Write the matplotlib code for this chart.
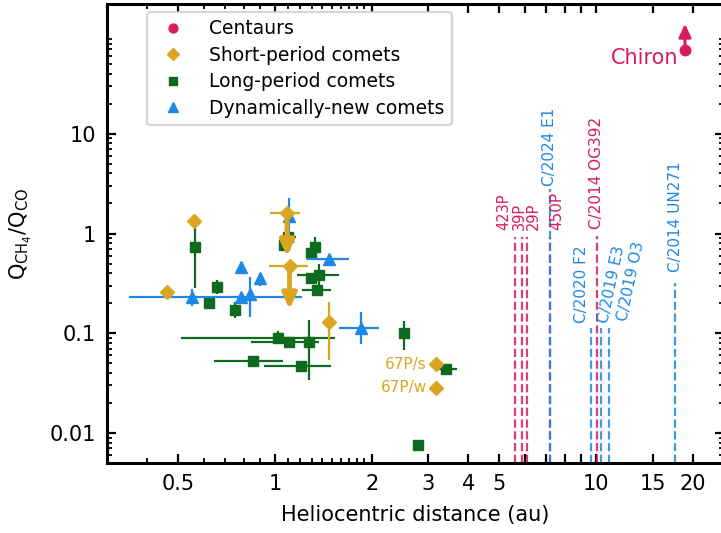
import numpy as np
import matplotlib
matplotlib.use("Agg")
import matplotlib.pyplot as plt
from matplotlib.ticker import FixedLocator, FixedFormatter, LogLocator, NullFormatter

nan = np.nan

# colours per population
C_CEN = "#D81B60"
C_SP  = "#DAA520"
C_LP  = "#0E6A1E"
C_DN  = "#1E88E5"

# ── data: heliocentric distance (au) and Q(CH4)/Q(CO) ─────────────
# centaurs (Chiron, lower limit)
cen_r = [18.9]
cen_q = [69.0]

# short-period comets
sp_r   = [0.46, 0.56, 1.09, 1.11, 1.47, 3.17, 3.17]
sp_q   = [0.26, 1.34, 1.60, 0.47, 0.131, 0.049, 0.0285]
sp_rlo = [nan, nan, 0.966, 0.957, nan, nan, nan]
sp_rhi = [nan, nan, 1.20, 1.27, nan, nan, nan]
sp_qlo = [nan, nan, nan, nan, 0.054, nan, nan]
sp_qhi = [nan, nan, nan, nan, 0.207, nan, nan]
sp_uplim = [False, False, True, True, False, False, False]
sp_names = ["", "", "", "", "", "67P/s", "67P/w"]

# long-period comets
lp_r   = [0.563, 0.622, 0.659, 0.75, 1.096, 1.065, 1.336, 1.296, 1.374, 1.296,
          1.355, 1.025, 1.109, 1.28, 0.853, 1.209, 2.52, 3.42, 2.78]
lp_q   = [0.74, 0.203, 0.293, 0.171, 0.93, 0.77, 0.74, 0.634, 0.385, 0.357,
          0.272, 0.089, 0.081, 0.082, 0.0527, 0.0473, 0.100, 0.0436, 0.0076]
lp_rlo = [nan, nan, nan, nan, 1.045, nan, nan, nan, 1.17, nan,
          1.215, 0.511, 0.843, nan, 0.644, 0.926, nan, 3.20, nan]
lp_rhi = [nan, nan, nan, nan, 1.16, nan, nan, nan, 1.585, nan,
          1.494, 1.538, 1.367, nan, 1.063, 1.494, nan, 3.68, nan]
lp_qlo = [0.285, nan, 0.246, 0.141, nan, nan, 0.55, nan, 0.30, nan,
          0.245, 0.079, 0.072, 0.034, nan, nan, 0.068, nan, 0.0068]
lp_qhi = [1.17, nan, 0.34, 0.207, nan, nan, 0.93, nan, 0.50, nan,
          0.30, 0.106, 0.090, 0.136, nan, nan, 0.133, nan, 0.0085]

# dynamically-new comets
dn_r   = [0.551, 0.839, 0.782, 0.897, 0.782, 1.104, 1.477, 1.852]
dn_q   = [0.233, 0.25, 0.459, 0.357, 0.233, 1.5, 0.556, 0.112]
dn_rlo = [nan, nan, nan, nan, 0.352, nan, 1.255, 1.58]
dn_rhi = [nan, nan, nan, nan, 1.211, nan, 1.70, 2.11]
dn_qlo = [0.188, 0.147, 0.39, 0.30, nan, 0.95, nan, 0.078]
dn_qhi = [0.276, 0.37, 0.52, 0.40, nan, 2.27, nan, 0.165]

# upper limits shown as dashed lines
ul_names = ["423P", "39P", "29P", "450P", "C/2014 OG392",
            "C/2024 E1", "C/2020 F2", "C/2019 E3", "C/2019 O3", "C/2014 UN271"]
ul_r     = [5.57, 5.86, 6.10, 7.17, 10.06, 7.20, 9.63, 10.38, 10.94, 17.6]
ul_top   = [0.93, 0.93, 0.93, 0.93, 0.95, 2.8, 0.112, 0.112, 0.112, 0.32]
ul_kind  = ["cen", "cen", "cen", "cen", "cen", "dn", "dn", "dn", "dn", "dn"]

# label placement (offset points, rotation) — layout only
ul_dx  = [-8.0, -1.8, 4.6, 4.8, -0.7, -0.7, -6.5, -3.4, 5.0, 0.0]
ul_dy  = [4.8, 4.8, 4.8, 4.8, 4.8, 2.0, 3.6, 3.0, 4.3, 7.5]
ul_rot = [90, 90, 90, 90, 90, 90, 90, 78, 78, 90]
ul_fs  = [10.5, 10.5, 10.5, 11, 11, 11, 11, 11, 11, 11]

XMIN, XMAX = 0.3, 25.0
YMIN, YMAX = 0.005, 200.0


def errs(v, lo, hi):
    v, lo, hi = np.asarray(v), np.asarray(lo), np.asarray(hi)
    return np.vstack([v - lo, hi - v])


def limit_arrow(ax, x, y, color, length, lw, scale):
    # arrow starts at the point, head away from it
    ax.annotate("", xy=(x, y), xycoords="data",
                xytext=(0, length), textcoords="offset points",
                arrowprops=dict(arrowstyle="<|-,head_length=0.65,head_width=0.3",
                                color=color, lw=lw, shrinkA=0, shrinkB=0,
                                mutation_scale=scale),
                zorder=5)


def make_plot():
    plt.rcParams["font.family"] = "DejaVu Sans"
    plt.rcParams["axes.linewidth"] = 2.2

    fig = plt.figure(figsize=(7.21, 5.33), dpi=100)
    ax = fig.add_axes([107 / 721, 70 / 533, 617 / 721, 459 / 533])
    ax.set_xscale("log")
    ax.set_yscale("log")
    ax.set_xlim(XMIN, XMAX)
    ax.set_ylim(YMIN, YMAX)

    eb = dict(capsize=0, elinewidth=1.6, linestyle="none")

    h_lp = ax.errorbar(lp_r, lp_q, xerr=errs(lp_r, lp_rlo, lp_rhi),
                       yerr=errs(lp_q, lp_qlo, lp_qhi), fmt="s", ms=7,
                       color=C_LP, zorder=3, **eb)
    h_dn = ax.errorbar(dn_r, dn_q, xerr=errs(dn_r, dn_rlo, dn_rhi),
                       yerr=errs(dn_q, dn_qlo, dn_qhi), fmt="^", ms=8.5,
                       color=C_DN, zorder=3.2, **eb)
    h_sp = ax.errorbar(sp_r, sp_q, xerr=errs(sp_r, sp_rlo, sp_rhi),
                       yerr=errs(sp_q, sp_qlo, sp_qhi), fmt="D", ms=7.5,
                       color=C_SP, zorder=3.4, **eb)
    h_cen = ax.errorbar(cen_r, cen_q, fmt="o", ms=7.5, color=C_CEN,
                        zorder=3.6, **eb)

    # upper / lower limits
    for r, q, up in zip(sp_r, sp_q, sp_uplim):
        if up:
            limit_arrow(ax, r, q, C_SP, -31, 3.5, 14)
    for r, q in zip(cen_r, cen_q):
        limit_arrow(ax, r, q, C_CEN, 19, 2.2, 12)
        ax.annotate("Chiron", (r, q), xytext=(-5, -6), textcoords="offset points",
                    ha="right", va="center", fontsize=15, color=C_CEN)

    for r, q, n in zip(sp_r, sp_q, sp_names):
        if n:
            ax.annotate(n, (r, q), xytext=(-6.5, 0), textcoords="offset points",
                        ha="right", va="center", fontsize=11, color=C_SP)

    # dashed upper-limit lines with names
    for n, r, top, k, dx, dy, rot, fs in zip(ul_names, ul_r, ul_top, ul_kind,
                                             ul_dx, ul_dy, ul_rot, ul_fs):
        col = C_CEN if k == "cen" else C_DN
        ax.vlines(r, YMIN, top, colors=col, linestyles="--", lw=1.6,
                  alpha=0.85, zorder=2)
        ha = "center" if rot == 90 else "left"
        ax.annotate(n, (r, top), xytext=(dx, dy), textcoords="offset points",
                    ha=ha, va="bottom", rotation=rot, fontsize=fs, color=col)

    # ticks
    xmaj = [0.5, 1, 2, 3, 4, 5, 6, 7, 8, 9, 10, 15, 20]
    xlab = ["0.5", "1", "2", "3", "4", "5", "", "", "", "", "10", "15", "20"]
    xmin_t = [0.4, 0.6, 0.7, 0.8, 0.9] + [1.1, 1.2, 1.3, 1.4, 1.5, 1.6, 1.7, 1.8, 1.9]
    ax.xaxis.set_major_locator(FixedLocator(xmaj))
    ax.xaxis.set_major_formatter(FixedFormatter(xlab))
    ax.xaxis.set_minor_locator(FixedLocator(xmin_t))
    ax.xaxis.set_minor_formatter(NullFormatter())

    ax.yaxis.set_major_locator(FixedLocator([0.01, 0.1, 1, 10]))
    ax.yaxis.set_major_formatter(FixedFormatter(["0.01", "0.1", "1", "10"]))
    ax.yaxis.set_minor_locator(LogLocator(base=10, subs=np.arange(2, 10)))
    ax.yaxis.set_minor_formatter(NullFormatter())

    ax.tick_params(which="both", direction="in", top=True, right=True,
                   labelsize=15, pad=8)
    ax.tick_params(which="major", length=6.5, width=1.6)
    ax.tick_params(which="minor", length=3.5, width=1.3)

    ax.set_xlabel("Heliocentric distance (au)", fontsize=15, labelpad=8)
    ax.set_ylabel(r"$\mathregular{Q_{CH_4}/Q_{CO}}$", fontsize=15, labelpad=11)

    leg = ax.legend([h_cen[0], h_sp[0], h_lp[0], h_dn[0]],
                    ["Centaurs", "Short-period comets", "Long-period comets",
                     "Dynamically-new comets"],
                    loc="upper left", bbox_to_anchor=(0.065, 0.983),
                    borderaxespad=0, fontsize=13.5, numpoints=1,
                    labelspacing=0.4, markerscale=0.85, handletextpad=0.9)
    leg.get_frame().set_linewidth(1.6)
    leg.get_frame().set_edgecolor("#cccccc")

    fig.savefig("out.png", dpi=100)


if __name__ == "__main__":
    make_plot()
